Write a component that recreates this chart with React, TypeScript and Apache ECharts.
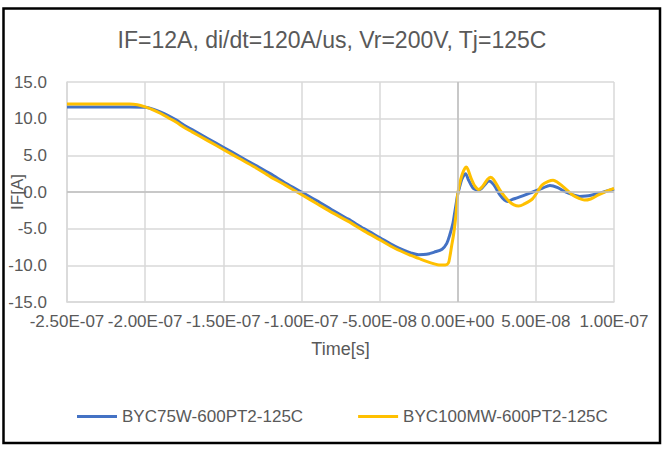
import React, { useEffect, useRef } from "react";
import * as echarts from "echarts";

const TITLE = "IF=12A, di/dt=120A/us, Vr=200V, Tj=125C";
const SERIES_A_NAME = "BYC75W-600PT2-125C";
const SERIES_B_NAME = "BYC100MW-600PT2-125C";

// time in ns
const timeA = [-250, -240, -230, -220, -210, -200, -195, -190, -185, -180, -175, -170, -160, -150, -140, -130, -120, -110, -100, -90, -80, -70, -60, -50, -40, -35, -30, -25, -20, -15, -10, -7, -5, -3, -2, -1, 0, 1, 2, 3, 5, 7, 10, 14, 17, 20, 23, 27, 30, 32, 35, 38, 42, 48, 54, 59, 64, 69, 74, 78, 82, 86, 90, 95, 100];
const ifA = [11.6, 11.6, 11.6, 11.6, 11.6, 11.55, 11.3, 10.9, 10.4, 9.8, 9.1, 8.5, 7.3, 6.1, 4.9, 3.7, 2.5, 1.2, 0.0, -1.2, -2.5, -3.7, -5.0, -6.2, -7.4, -7.9, -8.3, -8.55, -8.5, -8.2, -7.8, -7.0, -5.8, -4.2, -2.9, -1.6, -0.3, 0.5, 1.3, 1.9, 2.5, 1.6, 0.5, 0.3, 0.9, 1.5, 1.0, -0.4, -1.1, -1.3, -1.0, -0.8, -0.5, 0.0, 0.5, 0.9, 0.6, 0.0, -0.4, -0.6, -0.55, -0.4, -0.2, 0.1, 0.4];

const timeB = [-250, -240, -230, -220, -210, -205, -200, -195, -190, -185, -180, -175, -170, -160, -150, -140, -130, -120, -110, -100, -90, -80, -70, -60, -50, -40, -30, -25, -20, -15, -12, -8, -6, -5, -4, -2.5, -1, 0, 1, 2, 3, 4.5, 5.5, 6.5, 8.5, 11, 13.5, 16, 19, 21, 23, 27, 30, 33, 36, 39, 42, 48, 54, 58, 61, 64, 67, 73.5, 78, 81, 85, 90, 95, 100];
const ifB = [12.0, 12.0, 12.0, 12.0, 12.0, 11.9, 11.6, 11.2, 10.7, 10.1, 9.5, 8.8, 8.2, 7.0, 5.8, 4.6, 3.4, 2.1, 0.9, -0.35, -1.6, -2.85, -4.0, -5.3, -6.5, -7.7, -8.65, -9.05, -9.45, -9.8, -9.95, -9.95, -9.7, -8.8, -7.5, -5.6, -2.8, -0.3, 0.9, 1.8, 2.5, 3.2, 3.4, 3.1, 1.9, 0.8, 0.35, 0.8, 1.7, 2.0, 1.7, 0.25, -0.6, -1.3, -1.75, -1.9, -1.7, -0.9, 0.95, 1.45, 1.6, 1.3, 0.8, -0.4, -0.9, -1.1, -0.95, -0.4, 0.1, 0.5];

const X_MIN = -250;
const X_MAX = 100;
const X_STEP = 50;
const Y_MIN = -15;
const Y_MAX = 15;
const Y_STEP = 5;

const FONT = "Liberation Sans";
const TEXT = "#595959";

function fmtSeconds(ns: number): string {
  const s = ns * 1e-9;
  const str = s.toExponential(2);
  const [mant, exp] = str.split("e");
  const sign = exp[0] === "-" ? "-" : "+";
  const digits = exp.replace(/[+-]/, "").padStart(2, "0");
  return `${mant}E${sign}${digits}`;
}

export default function App() {
  const ref = useRef<HTMLDivElement>(null);
  useEffect(() => {
    if (!ref.current) return;
    const chart = echarts.init(ref.current, undefined, { renderer: "svg" });
    chart.setOption({
      animation: false,
      backgroundColor: "#fff",
      title: {
        text: TITLE,
        left: "center",
        top: 28,
        padding: 0,
        textStyle: { fontFamily: FONT, fontSize: 23, fontWeight: "normal", color: TEXT },
      },
      grid: { left: 67, right: 50, top: 82, bottom: 152, containLabel: false, outerBoundsMode: "none" },
      legend: {
        data: [SERIES_A_NAME, SERIES_B_NAME],
        left: 72,
        top: 403,
        icon: "rect",
        itemWidth: 40,
        itemHeight: 3,
        itemGap: 55,
        textStyle: { fontFamily: FONT, fontSize: 17, color: TEXT },
      },
      xAxis: {
        type: "value",
        min: X_MIN,
        max: X_MAX,
        interval: X_STEP,
        name: "Time[s]",
        nameLocation: "middle",
        nameGap: 38,
        nameMoveOverlap: false,
        nameTextStyle: { fontFamily: FONT, fontSize: 18, color: TEXT },
        axisLine: { show: true, onZero: false, lineStyle: { color: "#d9d9d9", width: 1.5 } },
        axisTick: { show: false },
        axisLabel: {
          margin: 11,
          fontFamily: FONT,
          fontSize: 17,
          color: TEXT,
          showMinLabel: true,
          showMaxLabel: true,
          hideOverlap: false,
          formatter: (v: number) => fmtSeconds(v),
        },
        splitLine: { show: true, lineStyle: { color: "#d9d9d9", width: 1.5 } },
      },
      yAxis: {
        type: "value",
        min: Y_MIN,
        max: Y_MAX,
        interval: Y_STEP,
        name: "IF[A]",
        nameLocation: "middle",
        nameGap: 41,
        nameMoveOverlap: false,
        nameTextStyle: { fontFamily: FONT, fontSize: 17, color: TEXT },
        axisLine: { show: true, onZero: false, lineStyle: { color: "#d9d9d9", width: 1.5 } },
        axisTick: { show: false },
        axisLabel: {
          margin: 20,
          fontFamily: FONT,
          fontSize: 17,
          color: TEXT,
          showMinLabel: true,
          showMaxLabel: true,
          formatter: (v: number) => v.toFixed(1),
        },
        splitLine: { show: true, lineStyle: { color: "#d9d9d9", width: 1.5 } },
      },
      graphic: [
        {
          type: "rect",
          shape: { x: 3.5, y: 8.5, width: 656.5, height: 434.5 },
          style: { fill: "none", stroke: "#000", lineWidth: 2.5 },
          silent: true,
          z: 100,
        },
      ],
      series: [
        {
          name: "zero",
          type: "line",
          data: [[0, 0]],
          showSymbol: false,
          symbol: "none",
          lineStyle: { opacity: 0 },
          silent: true,
          z: 1,
          markLine: {
            silent: true,
            symbol: "none",
            label: { show: false },
            lineStyle: { color: "#bfbfbf", type: "solid", width: 1.5 },
            data: [{ xAxis: 0 }, { yAxis: 0 }],
          },
        },
        {
          name: SERIES_A_NAME,
          type: "line",
          data: timeA.map((t, i) => [t, ifA[i]]),
          showSymbol: false,
          symbol: "none",
          smooth: 0.3,
          lineStyle: { color: "#4472C4", width: 3 },
          itemStyle: { color: "#4472C4" },
          z: 2,
        },
        {
          name: SERIES_B_NAME,
          type: "line",
          data: timeB.map((t, i) => [t, ifB[i]]),
          showSymbol: false,
          symbol: "none",
          smooth: 0.3,
          lineStyle: { color: "#FFC000", width: 3 },
          itemStyle: { color: "#FFC000" },
          z: 3,
        },
      ],
    });
    return () => chart.dispose();
  }, []);
  return (
    <div
      ref={ref}
      style={{ position: "absolute", left: 0, top: 0, width: 664, height: 454 }}
    />
  );
}
